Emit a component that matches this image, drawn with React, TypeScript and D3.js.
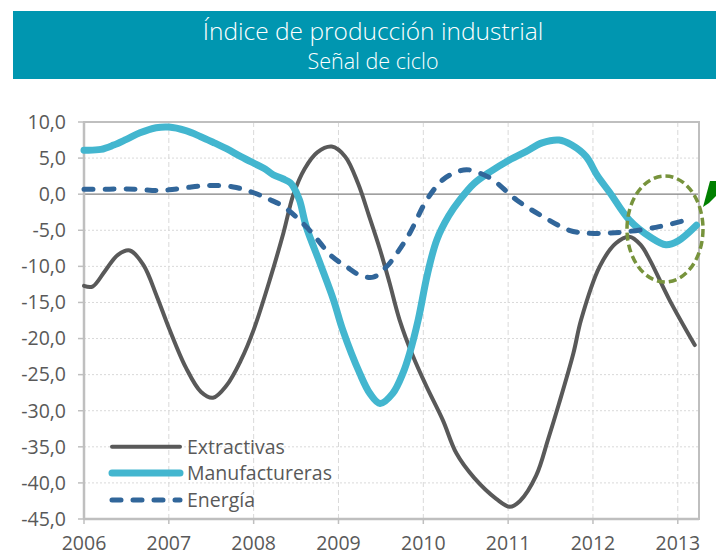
import React from 'react';
import * as d3 from 'd3';

// series: [year, value]
const extractivas: [number, number][] = [
  [2006.0, -12.7], [2006.1, -12.8], [2006.25, -10.6], [2006.4, -8.4], [2006.54, -7.8],
  [2006.7, -9.8], [2006.86, -14.2], [2007.0, -18.5], [2007.2, -24], [2007.38, -27.4],
  [2007.52, -28.2], [2007.68, -26.5], [2007.85, -23], [2008.0, -18.8], [2008.2, -11.5],
  [2008.35, -5.4], [2008.47, 0], [2008.6, 3.5], [2008.75, 5.8], [2008.92, 6.6],
  [2009.08, 5.2], [2009.23, 1.5], [2009.36, -3], [2009.49, -7.7], [2009.6, -12.2],
  [2009.72, -17.4], [2009.88, -22.5], [2010.04, -26.7], [2010.23, -31.3], [2010.39, -35.9],
  [2010.6, -39.3], [2010.86, -42.2], [2011.02, -43.3], [2011.14, -42.5], [2011.33, -39],
  [2011.47, -34], [2011.6, -29], [2011.77, -22], [2011.86, -17.4], [2012.08, -10],
  [2012.27, -6.8], [2012.43, -5.9], [2012.56, -7], [2012.67, -9.1], [2012.9, -14.6],
  [2013.2, -20.9],
];

const manufactureras: [number, number][] = [
  [2006.0, 6.1], [2006.2, 6.2], [2006.35, 6.8], [2006.5, 7.6], [2006.66, 8.5],
  [2006.85, 9.2], [2007.0, 9.3], [2007.2, 8.8], [2007.37, 8.0], [2007.52, 7.2],
  [2007.68, 6.3], [2007.85, 5.2], [2008.0, 4.3], [2008.12, 3.6], [2008.23, 2.7],
  [2008.35, 2.1], [2008.43, 1.6], [2008.47, 1.0], [2008.54, -0.8], [2008.62, -4.5],
  [2008.78, -9.5], [2008.94, -14.6], [2009.05, -18.8], [2009.25, -24.8], [2009.37, -27.6],
  [2009.49, -29], [2009.64, -27.6], [2009.76, -24.8], [2009.84, -22], [2009.94, -17.4],
  [2010.05, -11], [2010.16, -6.3], [2010.3, -3], [2010.43, -0.8], [2010.6, 1.5],
  [2010.8, 3.2], [2010.98, 4.5], [2011.21, 5.9], [2011.4, 7.1], [2011.6, 7.5],
  [2011.75, 6.8], [2011.92, 5.2], [2012.05, 2.6], [2012.2, 0.2], [2012.43, -3.6],
  [2012.67, -5.9], [2012.86, -7.0], [2013.0, -6.5], [2013.22, -4.3],
];

const energia: [number, number][] = [
  [2006.0, 0.7], [2006.3, 0.7], [2006.6, 0.7], [2006.85, 0.5], [2007.0, 0.6],
  [2007.2, 0.9], [2007.45, 1.2], [2007.76, 1.0], [2008.0, 0.2], [2008.2, -0.8],
  [2008.35, -1.7], [2008.62, -4.5], [2008.93, -8.7], [2009.09, -10], [2009.25, -11.2],
  [2009.41, -11.5], [2009.57, -10], [2009.7, -8], [2009.84, -5.4], [2010.04, -0.8],
  [2010.23, 2.0], [2010.38, 3.0], [2010.51, 3.4], [2010.67, 2.9], [2010.82, 2.0],
  [2011.1, -0.8], [2011.41, -3.1], [2011.72, -5.0], [2011.92, -5.4], [2012.15, -5.4],
  [2012.39, -5.2], [2012.78, -4.5], [2013.16, -3.4],
];

const years = [2006, 2007, 2008, 2009, 2010, 2011, 2012, 2013];
const yTicks = [10, 5, 0, -5, -10, -15, -20, -25, -30, -35, -40, -45];
const legendNames = ['Extractivas', 'Manufactureras', 'Energía'];

const W = 716;
const H = 553;
const left = 84, right = 699, top = 122, bottom = 519;
const font = "'Open Sans', 'Segoe UI', sans-serif";
const grey = '#595959';

const styles = [
  { color: '#595959', width: 4, dash: undefined as string | undefined },
  { color: '#43b6cf', width: 7, dash: undefined as string | undefined },
  { color: '#31669a', width: 5, dash: '9 12' },
];

const fmt = (v: number) => v.toFixed(1).replace('.', ',');

export default function App() {
  const x = d3.scaleLinear().domain([2006, 2013.25]).range([left, right]);
  const y = d3.scaleLinear().domain([-45, 10]).range([bottom, top]);

  const line = d3
    .line<[number, number]>()
    .x((d) => x(d[0]))
    .y((d) => y(d[1]))
    .curve(d3.curveCatmullRom.alpha(0.5));

  const series = [extractivas, manufactureras, energia];
  const legendY = [446.7, 473, 500];

  return (
    <svg width={W} height={H} style={{ position: 'absolute', left: 0, top: 0 }}>
      <rect x={0} y={0} width={W} height={H} fill="#fff" />

      {/* title banner */}
      <rect x={13} y={11} width={W - 13} height={68} fill="#0096b0" />
      <text x={373} y={40} textAnchor="middle" fill="#fff" fontFamily={font} fontWeight={300} fontSize={24.5}>
        Índice de producción industrial
      </text>
      <text x={373} y={69} textAnchor="middle" fill="#fff" fontFamily={font} fontWeight={300} fontSize={21.5}>
        Señal de ciclo
      </text>

      {/* grid */}
      {yTicks.filter((t) => t !== 0 && t !== 10 && t !== -45).map((t) => (
        <line key={'h' + t} x1={left} x2={right} y1={y(t)} y2={y(t)} stroke="#d9d9d9" strokeDasharray="2 2" />
      ))}
      {years.slice(1).map((yr) => (
        <line key={'v' + yr} x1={x(yr)} x2={x(yr)} y1={top} y2={bottom} stroke="#d9d9d9" strokeDasharray="5 3" />
      ))}
      <line x1={left} x2={right} y1={y(0)} y2={y(0)} stroke="#808080" strokeWidth={1.2} />

      {/* frame */}
      <rect x={left} y={top} width={right - left} height={bottom - top} fill="none" stroke="#bfbfbf" strokeWidth={2} />
      <line x1={left} x2={left} y1={top} y2={bottom} stroke="#bfbfbf" strokeWidth={2.5} />
      <line x1={left} x2={right} y1={bottom} y2={bottom} stroke="#bfbfbf" strokeWidth={2.5} />

      {/* y axis */}
      {yTicks.map((t) => (
        <g key={'y' + t}>
          <line x1={left - 6} x2={left} y1={y(t)} y2={y(t)} stroke="#bfbfbf" strokeWidth={1.5} />
          <text x={66} y={y(t)} dy="0.35em" textAnchor="end" fill={grey} fontFamily={font} fontSize={19.5}>
            {fmt(t)}
          </text>
        </g>
      ))}

      {/* x axis */}
      {years.map((yr) => (
        <g key={'x' + yr}>
          <line x1={x(yr)} x2={x(yr)} y1={bottom} y2={bottom + 5} stroke="#bfbfbf" strokeWidth={1.5} />
          <text x={x(yr)} y={550} textAnchor="middle" fill={grey} fontFamily={font} fontSize={19.5}>
            {yr}
          </text>
        </g>
      ))}

      {/* series */}
      {series.map((s, i) => (
        <path
          key={'s' + i}
          d={line(s) || ''}
          fill="none"
          stroke={styles[i].color}
          strokeWidth={styles[i].width}
          strokeDasharray={styles[i].dash}
          strokeLinecap="round"
          strokeLinejoin="round"
        />
      ))}

      {/* highlight */}
      <ellipse cx={665} cy={229} rx={38} ry={53} fill="none" stroke="#77933c" strokeWidth={3.5} strokeDasharray="8 4" />
      <polygon points="703,207 710,181 716,181 716,196 709,203" fill="#008000" />

      {/* legend */}
      {legendNames.map((name, i) => (
        <g key={name}>
          <line
            x1={112}
            x2={180}
            y1={legendY[i]}
            y2={legendY[i]}
            stroke={styles[i].color}
            strokeWidth={styles[i].width}
            strokeDasharray={styles[i].dash}
            strokeLinecap="round"
          />
          <text x={187} y={legendY[i]} dy="0.35em" fill={grey} fontFamily={font} fontSize={19.5}>
            {name}
          </text>
        </g>
      ))}
    </svg>
  );
}
